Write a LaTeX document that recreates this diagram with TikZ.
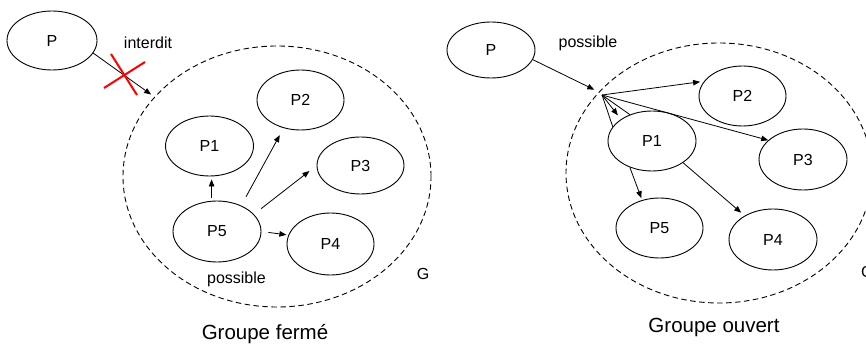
\documentclass[tikz,border=0pt]{standalone}
\usepackage{fontspec}
\setmainfont{Liberation Sans}
\usetikzlibrary{shapes.geometric,arrows.meta}

\begin{document}
\begin{tikzpicture}[x=1pt,y=-1pt,
  proc/.style={ellipse,draw,line width=0.9pt,minimum width=88pt,minimum height=60pt,
               inner sep=0pt,font=\fontsize{16}{19}\selectfont},
  group/.style={ellipse,draw,dashed,line width=0.9pt,dash pattern=on 5.5pt off 3.5pt,inner sep=0pt},
  arr/.style={line width=0.8pt,-{Triangle[length=7pt,width=5.5pt]}},
  plain/.style={line width=0.8pt},
  lbl/.style={font=\fontsize{16}{19}\selectfont,inner sep=0pt},
  title/.style={font=\fontsize{20.5}{24}\selectfont,inner sep=0pt},
  redx/.style={draw=red,line width=2pt}]
\useasboundingbox (0,0) rectangle (866,347);

% ---------- closed group ----------
\node[group,minimum width=308pt,minimum height=261pt] (Gl) at (277,176.5) {};
\node[proc,minimum width=90pt,minimum height=59pt] (Pl) at (52,40.5) {P};
\node[proc] (L1) at (209.5,146) {P1};
\node[proc,minimum width=87pt] (L2) at (300.5,100) {P2};
\node[proc,minimum width=87pt,minimum height=57pt] (L3) at (360.5,165.5) {P3};
\node[proc,minimum height=61pt] (L5) at (217,231.5) {P5};
\node[proc,minimum width=87pt,minimum height=62pt] (L4) at (330.5,244) {P4};

\draw[arr,shorten >=4pt] (Pl.-17) -- (Gl.147);
\coordinate (xmark) at (124,75);
\draw[redx] ([shift={(-13,-21)}]xmark) -- ([shift={(13,20)}]xmark);
\draw[redx] ([shift={(-20,13)}]xmark) -- ([shift={(21,-13)}]xmark);

\draw[arr,shorten <=3pt,shorten >=3pt] (L5.100) -- (L5.100 |- L1.south);
\draw[arr,shorten <=10pt,shorten >=8pt] (L5.47) -- (L2.-121);
\draw[arr,shorten <=9pt,shorten >=9pt] (L5.25) -- (L3.180);
\draw[arr,shorten <=7pt,shorten >=2pt] (L5.0) -- (L4.168);

\node[lbl] (interdit) at (148,43) {interdit};
\node[lbl] (possL) at (236.5,279) {possible};
\node[lbl] (GL) at (423,274) {G};
\node[title] (tL) at (265,334) {Groupe fermé};

% ---------- open group ----------
\node[group,minimum width=306pt,minimum height=260pt] (Gr) at (719,173) {};
\node[proc,minimum height=56pt] (Pr) at (491,50) {P};
\node[proc] (R1) at (652,141) {P1};
\node[proc,minimum width=87pt] (R2) at (742.5,96) {P2};
\node[proc,minimum height=61pt] (R3) at (803,159.5) {P3};
\node[proc,minimum width=87pt] (R5) at (659.5,228) {P5};
\node[proc,minimum height=61pt] (R4) at (773,239.5) {P4};

\draw[arr,shorten >=5pt] (Pr.-13) -- (Gr.146);
\coordinate (src) at (602,95);
\draw[arr,shorten >=4pt] (src) -- (R2.159);
\draw[arr] (src) -- (R3.151);
\draw[plain] (src) -- (R1.160);
\draw[plain] (src) -- (R1.130);
\draw[arr,shorten >=5pt] (src) -- (R1.145);
\draw[arr,shorten >=2pt] (R1.-130) -- (R5.122);
\draw[arr,shorten >=4.5pt] (R1.-35) -- (R4.140);

\node[lbl] (possR) at (588,43) {possible};
\node[lbl,anchor=west] (GR) at (861,272) {G};
\node[title] (tR) at (714,327) {Groupe ouvert};
\end{tikzpicture}
\end{document}
